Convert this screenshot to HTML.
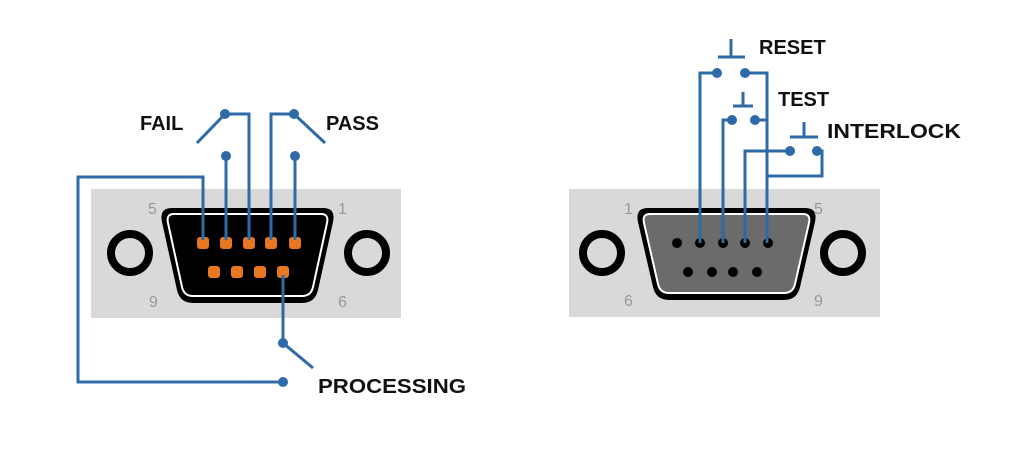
<!DOCTYPE html>
<html><head><style>body{margin:0;background:#fff}svg{display:block}</style></head><body>
<svg width="1024" height="471" viewBox="0 0 1024 471" xmlns="http://www.w3.org/2000/svg">
<g font-family="Liberation Sans Narrow, Liberation Sans, sans-serif">
<!-- LEFT -->
<rect x="91" y="189" width="310" height="129" fill="#d9d9d9"/>
<circle cx="130" cy="253" r="19" fill="none" stroke="#000" stroke-width="8"/>
<circle cx="367" cy="253" r="19" fill="none" stroke="#000" stroke-width="8"/>
<path d="M172,208 H323 Q336,208 333,222 L318,290 Q315,303 302,303 H193 Q180,303 177,290 L162,222 Q159,208 172,208 Z" fill="#000"/>
<path d="M174,214 H321 Q329,214 327,223 L313,287 Q311,296 302,296 H193 Q184,296 182,287 L168,223 Q166,214 174,214 Z" fill="none" stroke="#fff" stroke-width="2"/>
<g fill="#e87722">
<rect x="197" y="237" width="12" height="12" rx="3"/><rect x="220" y="237" width="12" height="12" rx="3"/><rect x="243" y="237" width="12" height="12" rx="3"/><rect x="265" y="237" width="12" height="12" rx="3"/><rect x="289" y="237" width="12" height="12" rx="3"/>
<rect x="208" y="266" width="12" height="12" rx="3"/><rect x="231" y="266" width="12" height="12" rx="3"/><rect x="254" y="266" width="12" height="12" rx="3"/><rect x="277" y="266" width="12" height="12" rx="3"/>
</g>
<g font-size="16" fill="#999"><text x="148" y="214">5</text><text x="338" y="214">1</text><text x="149" y="307">9</text><text x="338" y="307">6</text></g>
<g stroke="#2e6aa8" stroke-width="3" fill="none">
<path d="M203,240 V177 H78 V382 H283"/>
<path d="M226,240 V156"/>
<path d="M249,240 V114 H225 L197,143"/>
<path d="M271,240 V114 H294 L325,143"/>
<path d="M295,240 V156"/>
<path d="M283,275 V343 L313,368"/>
</g>
<g fill="#2e6aa8">
<circle cx="226" cy="156" r="5"/><circle cx="295" cy="156" r="5"/><circle cx="225" cy="114" r="5"/><circle cx="294" cy="114" r="5"/><circle cx="283" cy="343" r="5"/><circle cx="283" cy="382" r="5"/>
</g>
<g font-size="20" font-weight="bold" fill="#111">
<text x="140" y="130">FAIL</text><text x="326" y="130">PASS</text><text x="318" y="393" textLength="148" lengthAdjust="spacingAndGlyphs">PROCESSING</text>
</g>
<!-- RIGHT -->
<rect x="569" y="189" width="311" height="128" fill="#d9d9d9"/>
<circle cx="602" cy="253" r="19" fill="none" stroke="#000" stroke-width="8"/>
<circle cx="843" cy="253" r="19" fill="none" stroke="#000" stroke-width="8"/>
<path d="M648,208 H805 Q818,208 815,222 L800,287 Q797,300 784,300 H669 Q656,300 653,287 L638,222 Q635,208 648,208 Z" fill="#000"/>
<path d="M650,214 H803 Q811,214 809,223 L795,284 Q793,293 784,293 H669 Q660,293 658,284 L644,223 Q642,214 650,214 Z" fill="#6b6b6b" stroke="#fff" stroke-width="2"/>
<g fill="#000">
<circle cx="677" cy="243" r="5"/><circle cx="700" cy="243" r="5"/><circle cx="723" cy="243" r="5"/><circle cx="745" cy="243" r="5"/><circle cx="768" cy="243" r="5"/>
<circle cx="688" cy="272" r="5"/><circle cx="712" cy="272" r="5"/><circle cx="733" cy="272" r="5"/><circle cx="757" cy="272" r="5"/>
</g>
<g font-size="16" fill="#999"><text x="624" y="214">1</text><text x="814" y="214">5</text><text x="624" y="306">6</text><text x="814" y="306">9</text></g>
<g stroke="#2e6aa8" stroke-width="3" fill="none">
<path d="M700,243 V73 H717"/>
<path d="M745,73 H767 V243"/>
<path d="M723,243 V120 H732"/>
<path d="M755,120 H767"/>
<path d="M745,243 V151 H790"/>
<path d="M817,151 H822 V176 H767"/>
<path d="M718,57 H745 M731,57 V39"/>
<path d="M733,106 H753 M743,106 V92"/>
<path d="M790,137 H818 M804,137 V122"/>
</g>
<g fill="#2e6aa8">
<circle cx="717" cy="73" r="5"/><circle cx="745" cy="73" r="5"/><circle cx="732" cy="120" r="5"/><circle cx="755" cy="120" r="5"/><circle cx="790" cy="151" r="5"/><circle cx="817" cy="151" r="5"/>
</g>
<g font-size="20" font-weight="bold" fill="#111">
<text x="759" y="54">RESET</text><text x="778" y="106">TEST</text><text x="827" y="138" textLength="134" lengthAdjust="spacingAndGlyphs">INTERLOCK</text>
</g>
</g>
</svg>
</body></html>
